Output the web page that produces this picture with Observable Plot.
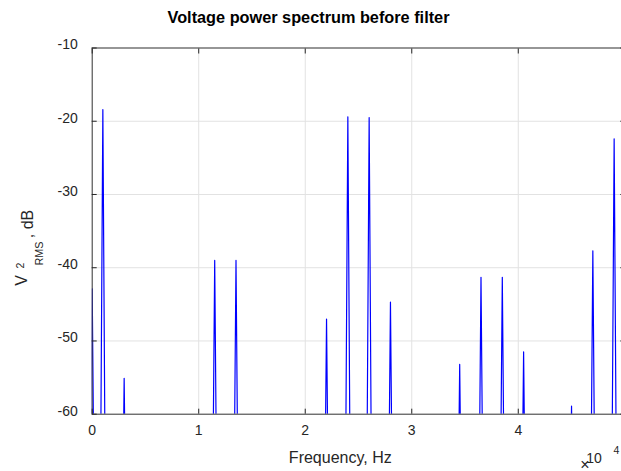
<!DOCTYPE html>
<html><head><meta charset="utf-8">
<script src="https://cdn.jsdelivr.net/npm/d3@7"></script>
<script src="https://cdn.jsdelivr.net/npm/@observablehq/plot@0.6"></script>
<style>html,body{margin:0;padding:0;background:#fff;overflow:hidden}</style>
</head><body><div id="chart"></div>
<script>
// Spectral lines (Hz) and their peak level (dB)
const spikeFreqs  = [0, 1000, 3000, 11500, 13500, 22000, 24000, 26000, 28000, 34500, 36500, 38500, 40500, 45000, 47000, 49000];
const spikeLevels = [-42.9, -18.4, -55.1, -39.0, -39.0, -47.0, -19.4, -19.5, -44.7, -53.2, -41.3, -41.3, -51.5, -58.9, -37.7, -22.4];
const noiseFloor = -100;   // level between lines (below the visible range)
const binWidth = 350;      // frequency resolution, Hz
const xTicks = [0, 10000, 20000, 30000, 40000, 50000];
const yTicks = [-60, -50, -40, -30, -20, -10];
const titleText = "Voltage power spectrum before filter";
const xLabel = "Frequency, Hz";

const spectrum = spikeFreqs.flatMap((f, i) => [
  {f: f - binWidth, db: noiseFloor},
  {f: f, db: spikeLevels[i]},
  {f: f + binWidth, db: noiseFloor}
]);

const ink = "#262626";
const gridColor = "#e2e2e2";
const font = "'Liberation Sans', Arial, Helvetica, sans-serif";

const plot = Plot.plot({
  width: 621,
  height: 471,
  marginLeft: 91.7,
  marginRight: -3.3,
  marginTop: 47.5,
  marginBottom: 57.3,
  style: {fontFamily: font, fontSize: "14px", color: ink, background: "#fff", overflow: "hidden"},
  x: {domain: [0, 50000], label: null},
  y: {domain: [-60, -10], label: null},
  marks: [
    Plot.gridX(xTicks, {stroke: gridColor, strokeOpacity: 1}),
    Plot.gridY(yTicks, {stroke: gridColor, strokeOpacity: 1}),
    Plot.line(spectrum, {x: "f", y: "db", stroke: "#0000ff", strokeWidth: 1.2, clip: true}),
    Plot.frame({stroke: "#3c3c3c", strokeWidth: 1}),
    Plot.axisX(xTicks, {anchor: "bottom", tickSize: 5, dy: -5, tickFormat: () => "", label: null, stroke: ink}),
    Plot.axisX(xTicks, {anchor: "top", tickSize: 5, dy: 5, tickFormat: () => "", label: null, stroke: ink}),
    Plot.axisY(yTicks, {anchor: "left", tickSize: 5, dx: 5, tickFormat: () => "", label: null, stroke: ink}),
    Plot.axisY(yTicks, {anchor: "right", tickSize: 5, dx: -5, tickFormat: () => "", label: null, stroke: ink}),
    Plot.axisX(xTicks, {anchor: "bottom", tickSize: 0, tickPadding: 10.5, tickFormat: d => String(d / 1e4), label: null, fontSize: 14, fill: ink}),
    Plot.axisY(yTicks, {anchor: "left", tickSize: 0, tickPadding: 14.4, dy: -3, tickFormat: d => String(d), label: null, fontSize: 14, fill: ink})
  ]
});

const svg = d3.select(plot);
// Title
svg.append("text")
  .attr("x", 308.5).attr("y", 23.3)
  .attr("text-anchor", "middle")
  .attr("font-weight", "bold").attr("font-size", 16.3)
  .attr("fill", "#000").text(titleText);
// X label
svg.append("text")
  .attr("x", 340.3).attr("y", 463.3)
  .attr("text-anchor", "middle")
  .attr("font-size", 16)
  .attr("fill", ink).text(xLabel);
// x10^4 multiplier
svg.append("text").attr("x", 585).attr("y", 464.5)
  .attr("text-anchor", "middle").attr("dominant-baseline", "central")
  .attr("font-size", 16).attr("fill", ink).text("\u00d7");
svg.append("text").attr("x", 594).attr("y", 463.3).attr("font-size", 14).attr("fill", ink).text("10");
svg.append("text").attr("x", 616.5).attr("y", 454).attr("font-size", 10.5).attr("fill", ink).text("4");
// Y label: V^2_RMS , dB (rotated)
function rot(x, y, size, txt) {
  svg.append("text")
    .attr("transform", `translate(${x},${y}) rotate(-90)`)
    .attr("font-size", size).attr("fill", ink).text(txt);
}
rot(26.7, 280.5, 16, "V");
rot(24, 265.5, 10.5, "2");
rot(42.7, 253.5, 10.8, "RMS");
rot(33, 224, 16, ", dB");

document.getElementById("chart").appendChild(plot);
</script>
</body></html>
